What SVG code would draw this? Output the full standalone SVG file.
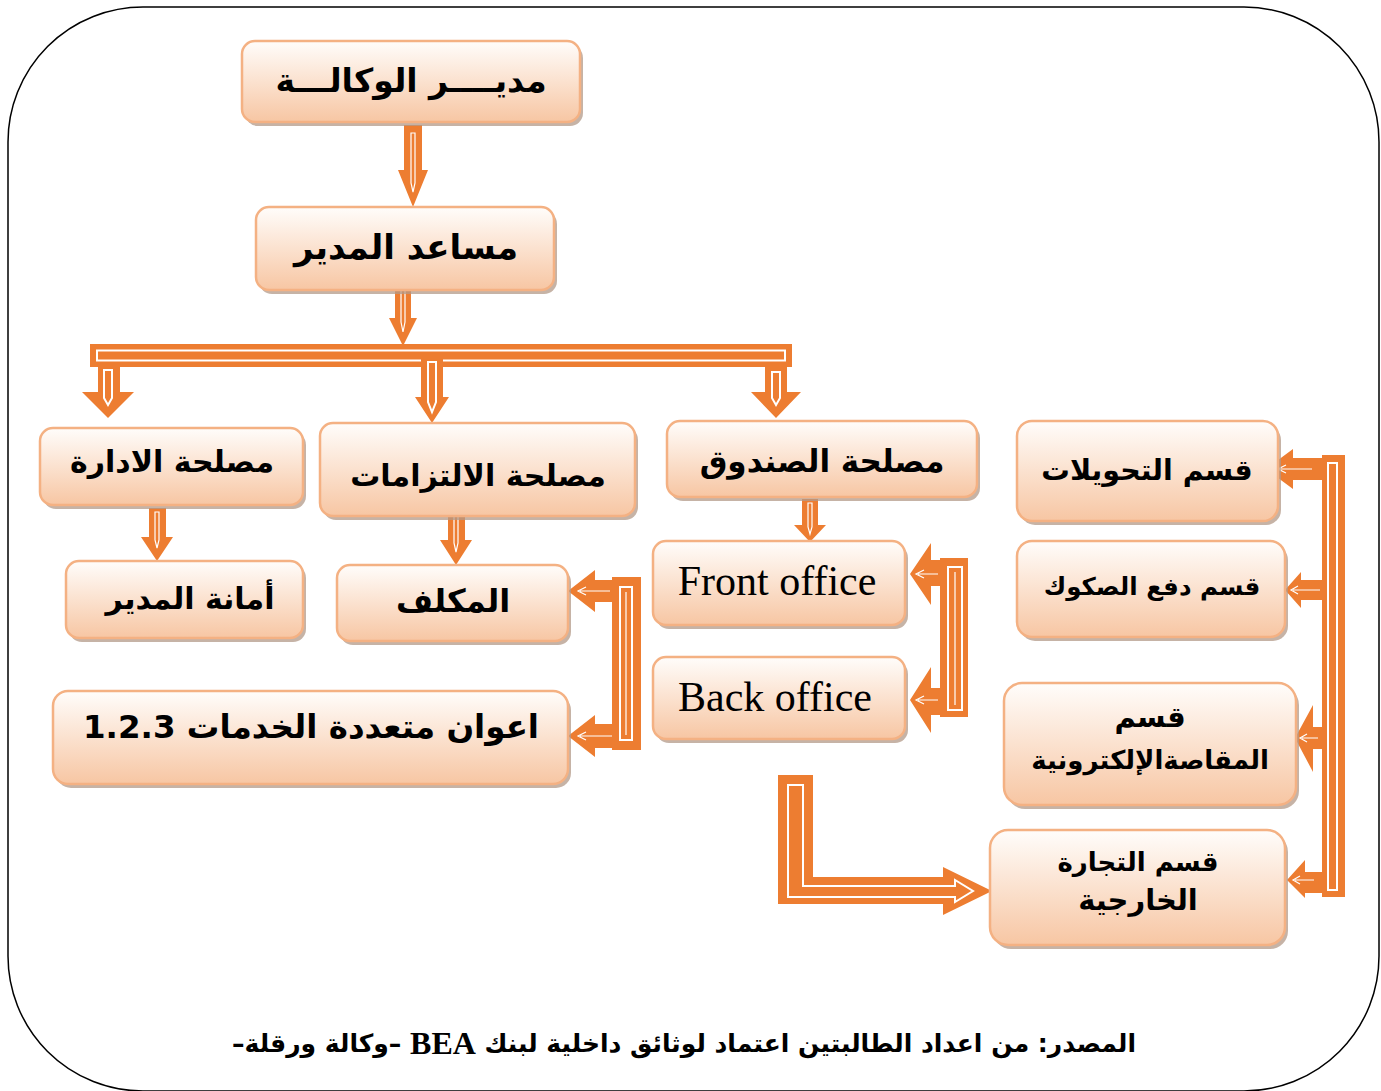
<svg xmlns="http://www.w3.org/2000/svg" width="1381" height="1091" viewBox="0 0 1381 1091">
<defs>
<linearGradient id="g" x1="0" y1="0" x2="0" y2="1">
<stop offset="0" stop-color="#fffdfb"/>
<stop offset="1" stop-color="#f7c6a3"/>
</linearGradient>
<style>
.sh{fill:#b39a88;opacity:0.75}
.bx{fill:url(#g);stroke:#f4b183;stroke-width:2.5}
.ar{font-family:"DejaVu Sans",sans-serif;font-weight:bold;fill:#000;text-anchor:middle;dominant-baseline:central;direction:rtl}
.en{font-family:"Liberation Serif",serif;fill:#000;text-anchor:middle;dominant-baseline:central}
.c{fill:#ed7d31}
.w{fill:none;stroke:#fff;stroke-width:2}
.wl{fill:none;stroke:#fff;stroke-width:1.2}
</style>
</defs>
<rect x="8" y="7" width="1371" height="1084" rx="135" fill="#fff" stroke="#000" stroke-width="1.5"/>

<g id="connectors">
<polygon class="c" points="404,125 422,125 422,170 428,170 413,207 398,170 404,170"/>
<path class="wl" d="M411,133 H415 V183 L413,192 L411,183 Z"/>
<polygon class="c" points="395,282 411,282 411,318 417,318 403,346 389,318 395,318"/>
<path class="wl" d="M401,288 H405 V322 L403,332 L401,322 Z"/>
<rect class="c" x="90" y="344" width="702" height="23"/>
<rect class="w" x="97" y="350.5" width="688" height="10"/>
<line x1="101" y1="355.5" x2="781" y2="355.5" stroke="#ed7d31" stroke-width="3"/>
<polygon class="c" points="98,366 120,366 120,392 134,392 108,418 82,392 98,392"/>
<path class="w" d="M104,370 H112 V398 L108,405 L104,398 Z"/>
<polygon class="c" points="421,356 443,356 443,397 449,397 432,423 415,397 421,397"/>
<path class="w" d="M428,362 H436 V402 L432,412 L428,402 Z"/>
<polygon class="c" points="765,366 787,366 787,392 801,392 776,418 751,392 765,392"/>
<path class="w" d="M772,372 H780 V398 L776,405 L772,398 Z"/>
<polygon class="c" points="149,508 166,508 166,537 173,537 157,561 141,537 149,537"/>
<path class="wl" d="M155,512 H159 V540 L157,548 L155,540 Z"/>
<polygon class="c" points="448,510 465,510 465,540 472,540 456,565 440,540 448,540"/>
<path class="wl" d="M454,514 H458 V543 L456,552 L454,543 Z"/>
<polygon class="c" points="802,499 818,499 818,525 826,525 810,542 794,525 802,525"/>
<path class="wl" d="M808,503 H812 V527 L810,534 L808,527 Z"/>
<rect class="c" x="612" y="577" width="29" height="173"/>
<polygon class="c" points="613,580 595,580 595,570 568,591 595,612 595,602 613,602"/>
<polygon class="c" points="613,724 595,724 595,715 568,736 595,757 595,748 613,748"/>
<rect class="w" x="620" y="587" width="12" height="153"/>
<line x1="626" y1="592" x2="626" y2="735" stroke="#fff" stroke-width="1.2"/>
<path class="wl" d="M610,591 H580 M586,587 L578,591 L586,595"/>
<path class="wl" d="M612,736 H580 M586,732 L578,736 L586,740"/>
<rect class="c" x="940" y="558" width="28" height="159"/>
<polygon class="c" points="941,560 931,560 931,543 910,574 931,605 931,586 941,586"/>
<polygon class="c" points="941,688 931,688 931,667 910,700 931,733 931,715 941,715"/>
<rect class="w" x="948" y="567" width="14" height="143"/>
<line x1="955" y1="572" x2="955" y2="705" stroke="#fff" stroke-width="1.2"/>
<path class="wl" d="M938,574 H918 M924,570 L916,574 L924,578"/>
<path class="wl" d="M938,700 H918 M924,696 L916,700 L924,704"/>
<rect class="c" x="1322" y="455" width="23" height="442"/>
<polygon class="c" points="1323,458 1293,458 1293,449 1266,469 1293,489 1293,480 1323,480"/>
<polygon class="c" points="1331,580 1301,580 1301,572 1285,590 1301,608 1301,600 1331,600"/>
<polygon class="c" points="1331,727 1313,727 1313,705 1295,738 1313,772 1313,749 1331,749"/>
<polygon class="c" points="1323,872 1305,872 1305,860 1287,880 1305,898 1305,893 1323,893"/>
<rect class="w" x="1328" y="463" width="9" height="427"/>
<path class="wl" d="M1312,469 H1280 M1286,465 L1278,469 L1286,473"/>
<path class="wl" d="M1320,590 H1293 M1298,586 L1291,590 L1298,594"/>
<path class="wl" d="M1318,738 H1302 M1307,734 L1300,738 L1307,742"/>
<path class="wl" d="M1314,880 H1295 M1300,876 L1293,880 L1300,884"/>
<path class="c" d="M778,775 H813 V877 H943 V867 L992,891 L943,915 V904 H778 Z"/>
<path class="w" d="M788,785 H803 V886 H955 V880 L973,891 L955,902 V897 H788 Z"/>
</g>

<g id="n1"><rect class="sh" x="245" y="45" width="338" height="81" rx="13"/><rect class="bx" x="242" y="41" width="338" height="81" rx="13"/><text class="ar" x="411" y="80" font-size="33">مديــــر الوكالـــة</text></g>
<g id="n2"><rect class="sh" x="259" y="211" width="298" height="83" rx="13"/><rect class="bx" x="256" y="207" width="298" height="83" rx="13"/><text class="ar" x="406" y="247" font-size="34">مساعد المدير</text></g>
<g id="n3"><rect class="sh" x="43" y="432" width="263" height="77" rx="13"/><rect class="bx" x="40" y="428" width="263" height="77" rx="13"/><text class="ar" x="172" y="461" font-size="30">مصلحة الادارة</text></g>
<g id="n4"><rect class="sh" x="323" y="427" width="315" height="93" rx="13"/><rect class="bx" x="320" y="423" width="315" height="93" rx="13"/><text class="ar" x="478" y="475" font-size="30">مصلحة الالتزامات</text></g>
<g id="n5"><rect class="sh" x="670" y="425" width="310" height="76" rx="13"/><rect class="bx" x="667" y="421" width="310" height="76" rx="13"/><text class="ar" x="822" y="461" font-size="31">مصلحة الصندوق</text></g>
<g id="n6"><rect class="sh" x="1020" y="425" width="261" height="100" rx="15"/><rect class="bx" x="1017" y="421" width="261" height="100" rx="15"/><text class="ar" x="1147" y="470" font-size="28.5">قسم التحويلات</text></g>
<g id="n7"><rect class="sh" x="69" y="565" width="237" height="77" rx="13"/><rect class="bx" x="66" y="561" width="237" height="77" rx="13"/><text class="ar" x="190" y="598" font-size="30">أمانة المدير</text></g>
<g id="n8"><rect class="sh" x="340" y="569" width="231" height="76" rx="13"/><rect class="bx" x="337" y="565" width="231" height="76" rx="13"/><text class="ar" x="453" y="601" font-size="32">المكلف</text></g>
<g id="n9"><rect class="sh" x="56" y="695" width="515" height="93" rx="15"/><rect class="bx" x="53" y="691" width="515" height="93" rx="15"/><text class="ar" x="311" y="727" font-size="32.5">اعوان متعددة الخدمات 1.2.3</text></g>
<g id="n10"><rect class="sh" x="656" y="545" width="252" height="84" rx="13"/><rect class="bx" x="653" y="541" width="252" height="84" rx="13"/><text class="en" x="777" y="581" font-size="42">Front office</text></g>
<g id="n11"><rect class="sh" x="656" y="661" width="252" height="82" rx="13"/><rect class="bx" x="653" y="657" width="252" height="82" rx="13"/><text class="en" x="775" y="697" font-size="42">Back office</text></g>
<g id="n12"><rect class="sh" x="1020" y="545" width="268" height="96" rx="15"/><rect class="bx" x="1017" y="541" width="268" height="96" rx="15"/><text class="ar" x="1152" y="586" font-size="24.5">قسم دفع الصكوك</text></g>
<g id="n13"><rect class="sh" x="1007" y="687" width="292" height="122" rx="18"/><rect class="bx" x="1004" y="683" width="292" height="122" rx="18"/><text class="ar" x="1150" y="717" font-size="29">قسم</text><text class="ar" x="1150" y="760" font-size="26">المقاصةالإلكترونية</text></g>
<g id="n14"><rect class="sh" x="993" y="834" width="295" height="115" rx="18"/><rect class="bx" x="990" y="830" width="295" height="115" rx="18"/><text class="ar" x="1138" y="862" font-size="26">قسم التجارة</text><text class="ar" x="1138" y="900" font-size="29">الخارجية</text></g>

<g id="source"><text class="ar" x="684" y="1043" font-size="25">المصدر: من اعداد الطالبتين اعتماد لوثائق داخلية لبنك <tspan font-family="Liberation Serif,serif" font-size="32">BEA</tspan> –وكالة ورقلة–</text></g>
</svg>
